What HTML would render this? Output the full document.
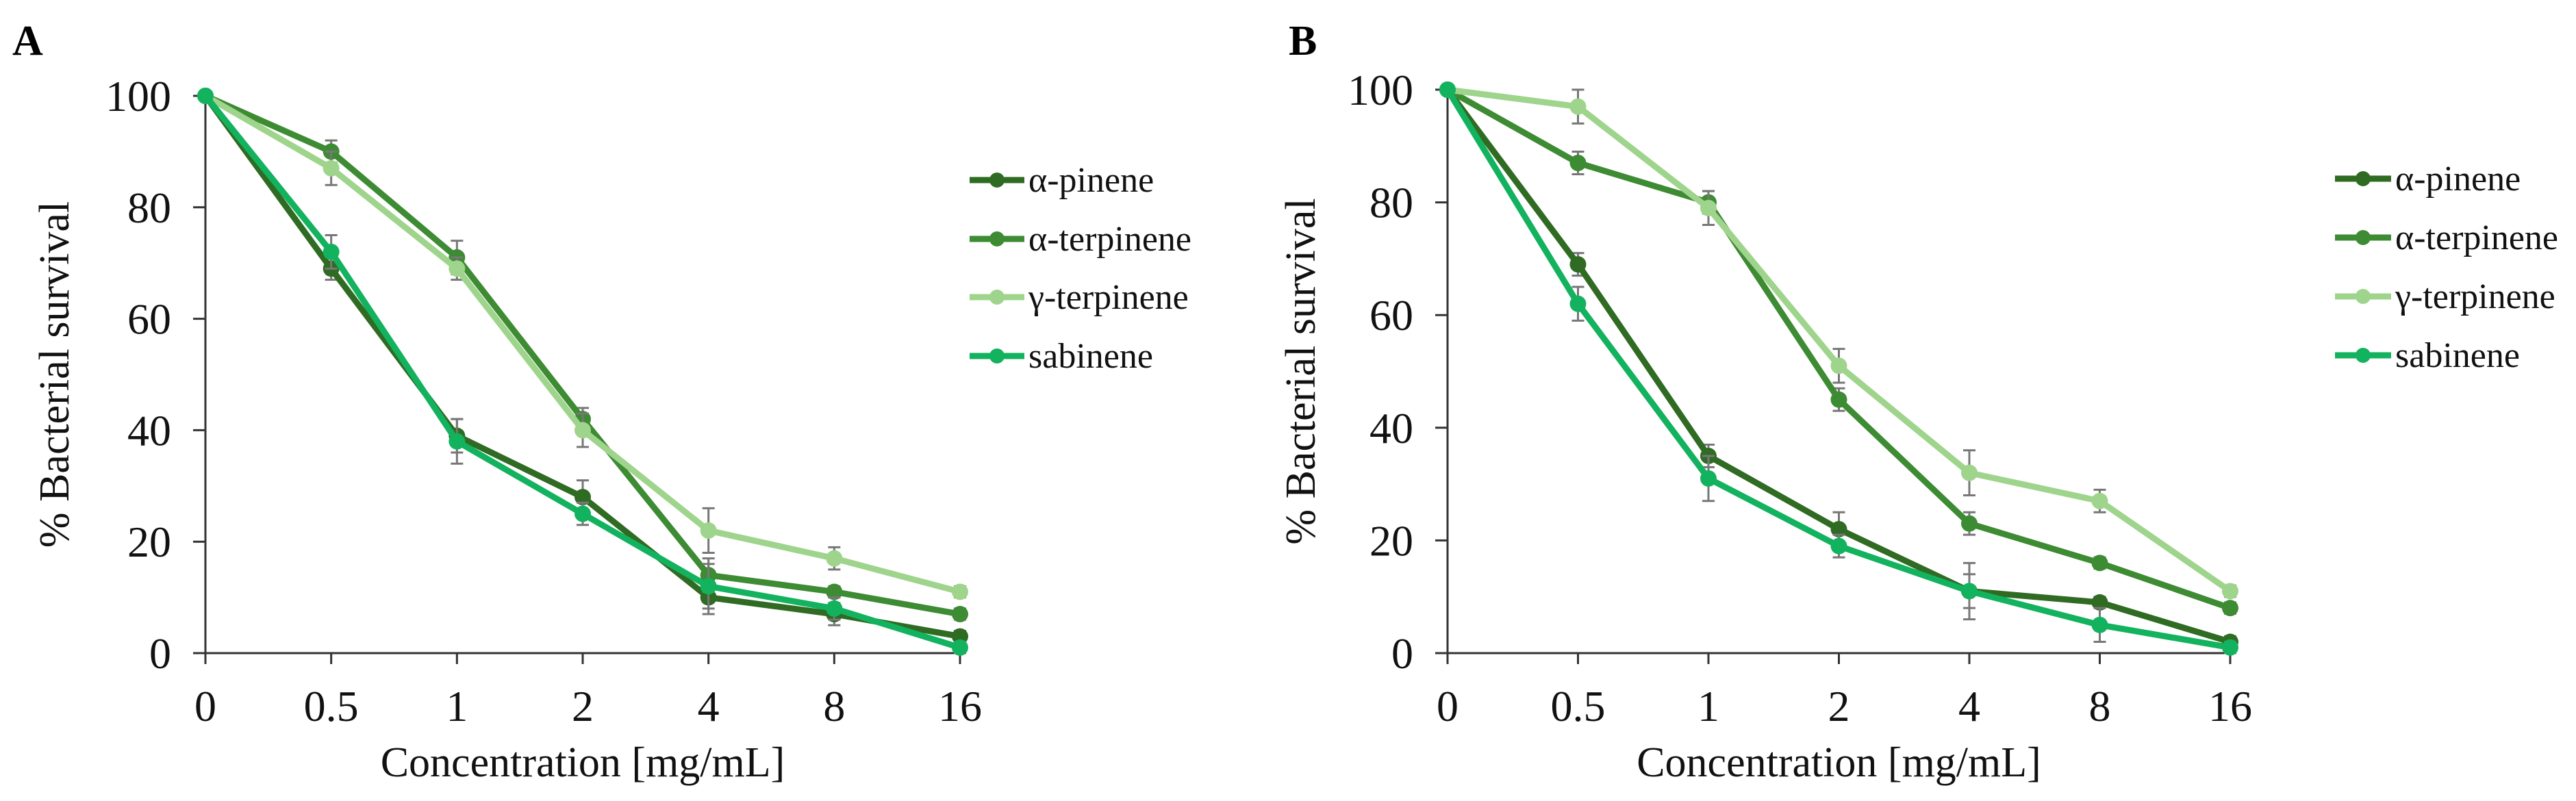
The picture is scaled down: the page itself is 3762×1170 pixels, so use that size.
<!DOCTYPE html>
<html><head><meta charset="utf-8"><style>
html,body{margin:0;padding:0;background:#fff;}
svg{display:block;font-family:"Liberation Serif",serif;}
</style></head><body>
<svg id="fig" width="3762" height="1170" viewBox="0 0 3762 1170" xmlns="http://www.w3.org/2000/svg"></svg>
<script>
const categories = ["0","0.5","1","2","4","8","16"];
const yTicks = [0,20,40,60,80,100];
const seriesNames = ["α-pinene","α-terpinene","γ-terpinene","sabinene"];
const colors = ["#2f6b22","#3d8b33","#9fd48c","#12b25e"];
const A_pinene = [100,69,39,28,10,7,3];
const A_aterp = [100,90,71,42,14,11,7];
const A_gterp = [100,87,69,40,22,17,11];
const A_sabin = [100,72,38,25,12,8,1];
const A_err = [[0,2,3,3,3,2,1],[0,2,3,2,3,1,1],[0,3,2,3,4,2,1],[0,3,4,2,4,2,1]];
const B_pinene = [100,69,35,22,11,9,2];
const B_aterp = [100,87,80,45,23,16,8];
const B_gterp = [100,97,79,51,32,27,11];
const B_sabin = [100,62,31,19,11,5,1];
const B_err = [[0,2,2,3,3,1,1],[0,2,2,2,2,1,1],[0,3,3,3,4,2,1],[0,3,4,2,5,3,1]];

const NS="http://www.w3.org/2000/svg";
const svg=document.getElementById('fig');
function mk(tag,attrs,parent){const e=document.createElementNS(NS,tag);for(const k in attrs)e.setAttribute(k,attrs[k]);(parent||svg).appendChild(e);return e;}

function panel(cfg){
  const g=mk('g',{});
  
  
  const xs=i=>cfg.x0+(cfg.x1-cfg.x0)*i/(categories.length-1);
  const ys=v=>cfg.y0-(cfg.y0-cfg.y100)*v/100;
  const lab=mk('text',{x:cfg.lx,y:80,'font-size':62,'font-weight':'bold',fill:'#000'},g);lab.textContent=cfg.label;
  
  
  // axes
  const ya=mk('line',{x1:cfg.x0,y1:cfg.y100,x2:cfg.x0,y2:cfg.y0,stroke:'#333','stroke-width':3},g);
  
  
  const xa=mk('line',{x1:cfg.x0,y1:cfg.y0,x2:cfg.x1,y2:cfg.y0,stroke:'#333','stroke-width':3},g);
  
  
  yTicks.forEach(v=>{
    mk('line',{x1:cfg.x0-18,y1:ys(v),x2:cfg.x0,y2:ys(v),stroke:'#333','stroke-width':3},g);
    const t=mk('text',{x:cfg.x0-50,y:ys(v)+22,'font-size':64,'text-anchor':'end',fill:'#111'},g);t.textContent=v;
    
    
  });
  categories.forEach((c,i)=>{
    mk('line',{x1:xs(i),y1:cfg.y0,x2:xs(i),y2:cfg.y0+16,stroke:'#333','stroke-width':3},g);
    const t=mk('text',{x:xs(i),y:1053,'font-size':64,'text-anchor':'middle',fill:'#111'},g);t.textContent=c;
    
    
  });
  const xt=mk('text',{x:(cfg.x0+cfg.x1)/2,y:1134,'font-size':62,'text-anchor':'middle',fill:'#111'},g);xt.textContent='Concentration [mg/mL]';
  
  
  const cy=(cfg.y0+cfg.y100)/2;
  const yt=mk('text',{x:cfg.ytx,y:cy,'font-size':62,'text-anchor':'middle',fill:'#111',transform:`rotate(-90 ${cfg.ytx} ${cy})`},g);yt.textContent='% Bacterial survival';
  
  
  // series
  cfg.data.forEach((arr,s)=>{
    const sg=mk('g',{},g);
    
    
    arr.forEach((v,i)=>{
      const e=cfg.err[s][i];if(!e)return;
      mk('path',{d:`M${xs(i)-9},${ys(v+e)}H${xs(i)+9}M${xs(i)},${ys(v+e)}V${ys(v-e)}M${xs(i)-9},${ys(v-e)}H${xs(i)+9}`,stroke:'#777','stroke-width':3,fill:'none'},sg);
    });
    const pts=arr.map((v,i)=>xs(i)+','+ys(v)).join(' ');
    const pl=mk('polyline',{points:pts,fill:'none',stroke:colors[s],'stroke-width':9,'stroke-linejoin':'round'},sg);
    
    
    arr.forEach((v,i)=>{
      const c=mk('circle',{cx:xs(i),cy:ys(v),r:12,fill:colors[s]},sg);
      
      
    });
  });
  // legend
  seriesNames.forEach((n,s)=>{
    const y=cfg.legY[s];
    const lg=mk('g',{},g);
    
    
    mk('line',{x1:cfg.legX,y1:y,x2:cfg.legX+cfg.legW,y2:y,stroke:colors[s],'stroke-width':9},lg);
    mk('circle',{cx:cfg.legX+cfg.legW/2,cy:y,r:11,fill:colors[s]},lg);
    const t=mk('text',{x:cfg.legX+cfg.legW+6,y:y+17,'font-size':52,fill:'#111'},lg);t.textContent=n;
  });
}
panel({label:'A',lx:18,x0:300,x1:1402,y100:140,y0:954,ytx:100,legX:1416,legW:80,legY:[263,349,434,520],
  data:[A_pinene,A_aterp,A_gterp,A_sabin],err:A_err});
panel({label:'B',lx:1882,x0:2114,x1:3257,y100:131,y0:954,ytx:1920,legX:3410,legW:82,legY:[261,347,433,519],
  data:[B_pinene,B_aterp,B_gterp,B_sabin],err:B_err});
</script>
</body></html>
